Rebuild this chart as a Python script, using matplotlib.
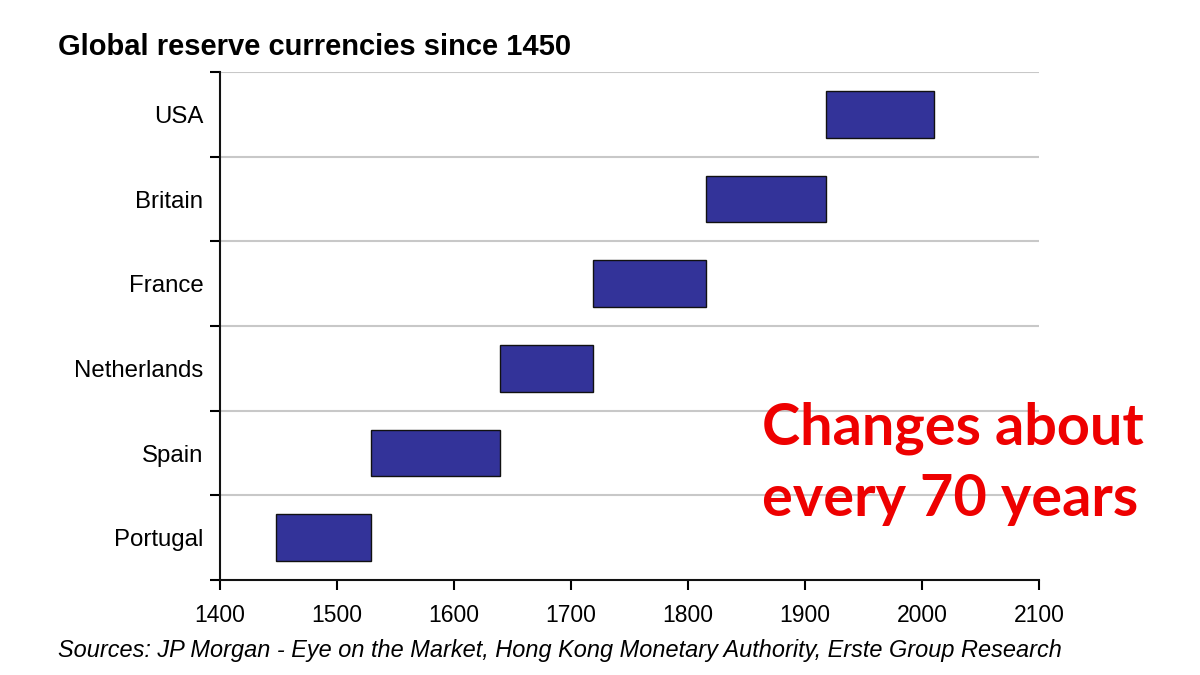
import matplotlib.pyplot as plt
import numpy as np

countries = ["Portugal", "Spain", "Netherlands", "France", "Britain", "USA"]
start_year = [1448, 1529, 1639, 1719, 1815, 1918]
end_year = [1529, 1639, 1719, 1815, 1918, 2010]
xticks = [1400, 1500, 1600, 1700, 1800, 1900, 2000, 2100]

plt.rcParams['font.family'] = ['Liberation Sans', 'DejaVu Sans']

fig = plt.figure(figsize=(12, 6.75), dpi=100)
ax = fig.add_axes([0.1833, 0.1407, 0.6825, 0.7526])

y = np.arange(len(countries))
widths = np.array(end_year) - np.array(start_year)
ax.barh(y, widths, left=start_year, height=0.55, color='#333399',
        edgecolor='#111111', linewidth=1.0, zorder=3)

ax.set_xlim(1400, 2100)
ax.set_ylim(-0.5, len(countries) - 0.5)

ax.set_yticks(y)
ax.set_yticklabels(countries, fontsize=17.3)
ax.set_yticks(np.arange(-0.5, len(countries)), minor=True)
ax.tick_params(axis='y', which='major', length=0, pad=12)
ax.tick_params(axis='y', which='minor', length=7, width=1.5, direction='out')

ax.set_xticks(xticks)
ax.set_xticklabels([str(t) for t in xticks], fontsize=16.5)
ax.tick_params(axis='x', length=7, width=1.5, direction='out', pad=10)

for b in np.arange(0.5, len(countries)):
    ax.axhline(b, color='#c8c8c8', linewidth=1.5, zorder=1)

for s in ['top', 'right']:
    ax.spines[s].set_visible(False)
for s in ['left', 'bottom']:
    ax.spines[s].set_linewidth(1.5)
    ax.spines[s].set_color('#111111')

fig.text(58 / 1200, 1 - 47 / 675, "Global reserve currencies since 1450",
         fontsize=21, fontweight='bold', va='center', ha='left')

fig.text(58 / 1200, 1 - 651 / 675,
         "Sources: JP Morgan - Eye on the Market, Hong Kong Monetary Authority, Erste Group Research",
         fontsize=16.9, fontstyle='italic', va='center', ha='left')

fig.text(762 / 1200, 1 - 428 / 675, "Changes about", fontsize=41.5,
         color='#ee0000', fontweight='bold', family=['Lato', 'DejaVu Sans'],
         va='center', ha='left')
fig.text(762 / 1200, 1 - 500 / 675, "every 70 years", fontsize=41.5,
         color='#ee0000', fontweight='bold', family=['Lato', 'DejaVu Sans'],
         va='center', ha='left')

fig.savefig("out.png", dpi=100)
